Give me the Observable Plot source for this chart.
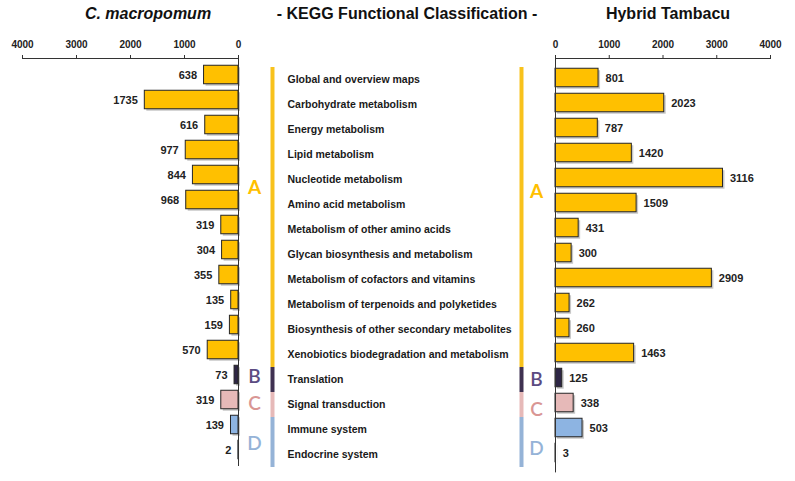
<!DOCTYPE html>
<html><head><meta charset="utf-8">
<script src="https://cdn.jsdelivr.net/npm/d3@7"></script>
<script src="https://cdn.jsdelivr.net/npm/@observablehq/plot@0.6"></script>
<style>
body{margin:0;background:#fff;font-family:"Liberation Sans",Arial,sans-serif;}
#wrap{position:relative;width:795px;height:481px;overflow:hidden;background:#fff}
.title{position:absolute;top:6px;font-weight:bold;font-size:16px;line-height:16px;color:#111;white-space:nowrap;transform:translateX(-50%)}
.panel{position:absolute;top:0}
</style></head><body>
<div id="wrap">
 <div class="title" style="left:148px;font-style:italic">C. macropomum</div>
 <div class="title" style="left:407px">- KEGG Functional Classification -</div>
 <div class="title" style="left:668px">Hybrid Tambacu</div>
</div>
<script>
const categories = [
  "Global and overview maps","Carbohydrate metabolism","Energy metabolism","Lipid metabolism",
  "Nucleotide metabolism","Amino acid metabolism","Metabolism of other amino acids",
  "Glycan biosynthesis and metabolism","Metabolism of cofactors and vitamins",
  "Metabolism of terpenoids and polyketides","Biosynthesis of other secondary metabolites",
  "Xenobiotics biodegradation and metabolism","Translation","Signal transduction",
  "Immune system","Endocrine system"
];
const groupOf = ["A","A","A","A","A","A","A","A","A","A","A","A","B","C","D","D"];
const macropomum = [638,1735,616,977,844,968,319,304,355,135,159,570,73,319,139,2];
const tambacu = [801,2023,787,1420,3116,1509,431,300,2909,262,260,1463,125,338,503,3];
const axisTicks = [0,1000,2000,3000,4000];
const sides = ["C. macropomum","Hybrid Tambacu"];
const groups = ["A","B","C","D"];
const letterRows = ["Nucleotide metabolism","Translation","Signal transduction","Immune system"];

const barFill = {A:"#FFC000", B:"#2E2645", C:"#E6B9B8", D:"#8DB4E2"};
const stripColor = {A:"#F8C21C", B:"#3F3151", C:"#E6B9B8", D:"#95B3D7"};
const letterColor = {A:"#FFC000", B:"#5B4B82", C:"#D99694", D:"#95B3D7"};
const FONT = "'Liberation Sans', Arial, sans-serif";
const NARROW = "'Liberation Sans Narrow', 'Liberation Sans', Arial, sans-serif";

const wrap = document.getElementById("wrap");
function place(el, left){ el.classList.add("panel"); el.style.left = left + "px"; wrap.appendChild(el); }

function sidePlot(values, {reverse, width, marginLeft, marginRight, marginBottom}) {
  const rows = categories.map((c,i)=>({category:c, group:groupOf[i], value:values[i]}));
  return Plot.plot({
    width, height: 481, marginTop: 58, marginBottom, marginLeft, marginRight,
    style: {background:"transparent", overflow:"visible", fontFamily: FONT, color:"#222"},
    x: {domain:[0,4000], reverse, axis:null, label:null},
    y: {domain: categories, padding:0, axis:null},
    marks: [
      Plot.frame({anchor:"top", stroke:"#333"}),
      Plot.axisX({anchor:"top", ticks: axisTicks, tickFormat: d3.format("d"), tickSize:4, tickPadding:7,
                  label:null, fontSize:10, fontWeight:"bold", fontFamily: NARROW, fill:"#222", stroke:"#333"}),
      Plot.barX(rows, {x:"value", y:"category", fill:"#c8c8c8", insetTop:3.25, insetBottom:3.25, dx:2, dy:2}),
      Plot.barX(rows, {x:"value", y:"category", fill: d=>barFill[d.group], stroke:"#262626", strokeWidth:1,
                       insetTop:3.25, insetBottom:3.25}),
      Plot.ruleX([0], {stroke:"#333"}),
      Plot.text(rows, {x:"value", y:"category", text: d=>String(d.value),
                       textAnchor: reverse ? "end" : "start", dx: reverse ? -7 : 7,
                       fontSize:11, fontWeight:"bold", fill:"#222"})
    ]
  });
}

place(sidePlot(macropomum, {reverse:true, width:240, marginLeft:22, marginRight:2, marginBottom:15}), 0);
place(sidePlot(tambacu, {reverse:false, width:242, marginLeft:2, marginRight:25, marginBottom:8.6}), 553);

// middle panel: category labels and group strips
const segs = sides.flatMap(s => categories.map((c,i)=>({side:s, category:c, group:groupOf[i]})));
const letters = sides.flatMap(s => groups.map((g,i)=>({side:s, group:g, row:letterRows[i]})));
const letterDy = {
  "C. macropomum": {A:8, B:-3, C:-1, D:14},
  "Hybrid Tambacu": {A:12, B:0, C:5, D:19}
};
const letterMarks = letters.map(d => Plot.text([d], {
  x:"side", y:"row", text:"group", fill: letterColor[d.group],
  dx: d.side === sides[0] ? -18 : 15, dy: letterDy[d.side][d.group],
  fontSize:19, fontFamily:"Lato, 'Open Sans', sans-serif", fontWeight: d.group === "A" ? "bold" : "600"
}));

const mid = Plot.plot({
  width:313, height:481, marginLeft:31.5, marginRight:32, marginTop:65.5, marginBottom:13.4,
  style: {background:"transparent", overflow:"visible", fontFamily: FONT},
  x: {type:"point", domain: sides, padding:0, axis:null},
  y: {domain: categories, padding:0, axis:null},
  marks: [
    Plot.tickX(segs, {x:"side", y:"category", stroke: d=>stripColor[d.group], strokeWidth:4}),
    Plot.text(categories, {y: d=>d, text: d=>d, frameAnchor:"left", dx:15.5, textAnchor:"start",
                           fontSize:10.5, fontWeight:"bold", fill:"#1a1a1a"}),
    ...letterMarks
  ]
});
place(mid, 240);
</script>
</body></html>
